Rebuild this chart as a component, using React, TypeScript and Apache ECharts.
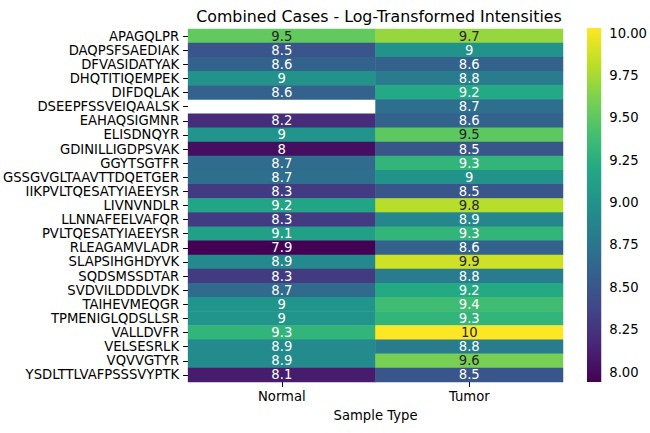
import React, { useEffect, useRef } from "react";
import * as echarts from "echarts";

const peptides = [
  "APAGQLPR", "DAQPSFSAEDIAK", "DFVASIDATYAK", "DHQTITIQEMPEK", "DIFDQLAK",
  "DSEEPFSSVEIQAALSK", "EAHAQSIGMNR", "ELISDNQYR", "GDINILLIGDPSVAK", "GGYTSGTFR",
  "GSSGVGLTAAVTTDQETGER", "IIKPVLTQESATYIAEEYSR", "LIVNVNDLR", "LLNNAFEELVAFQR",
  "PVLTQESATYIAEEYSR", "RLEAGAMVLADR", "SLAPSIHGHDYVK", "SQDSMSSDTAR",
  "SVDVILDDDLVDK", "TAIHEVMEQGR", "TPMENIGLQDSLLSR", "VALLDVFR", "VELSESRLK",
  "VQVVGTYR", "YSDLTTLVAFPSSSVYPTK",
];

const sampleTypes = ["Normal", "Tumor"];

const normalValues: (number | null)[] = [
  9.52, 8.49, 8.6, 9.0, 8.6, null, 8.2, 9.02, 8.02, 8.68, 8.7, 8.3, 9.17, 8.3,
  9.12, 7.941, 8.92, 8.3, 8.66, 9.02, 9.02, 9.3, 8.93, 8.94, 8.1,
];

const tumorValues: (number | null)[] = [
  9.7, 9.0, 8.6, 8.8, 9.2, 8.7, 8.6, 9.5, 8.5, 9.3, 9.0, 8.5, 9.8, 8.9, 9.3,
  8.6, 9.88, 8.8, 9.2, 9.38, 9.3, 10.031, 8.8, 9.6, 8.5,
];

const colorbarTicks = [8.0, 8.25, 8.5, 8.75, 9.0, 9.25, 9.5, 9.75, 10.0];
const vMin = 7.941;
const vMax = 10.031;

const viridis = [
  "#440154", "#482475", "#414487", "#355f8d", "#2a788e", "#21918c",
  "#22a884", "#44bf70", "#7ad151", "#bddf26", "#fde725",
];

const FONT = "DejaVu Sans";
const FS = 13.2;

export default function App() {
  const ref = useRef<HTMLDivElement>(null);
  useEffect(() => {
    document.body.style.margin = "0";
    if (!ref.current) return;
    const chart = echarts.init(ref.current, null, { renderer: "svg" });

    const data: any[] = [];
    [normalValues, tumorValues].forEach((col, xi) => {
      col.forEach((v, yi) => {
        if (v === null) return;
        data.push({
          value: [xi, yi, v],
          label: { color: v > 9.45 ? "#262626" : "#ffffff" },
        });
      });
    });

    const stops = viridis.map((c, i) => ({ offset: i / (viridis.length - 1), color: c }));

    chart.setOption({
      animation: false,
      title: {
        text: "Combined Cases - Log-Transformed Intensities",
        left: 374,
        top: 3,
        textAlign: "center",
        textStyle: { fontFamily: FONT, fontSize: 15.8, fontWeight: "normal", color: "#000" },
      },
      grid: [
        { left: 185, top: 29, width: 378, height: 353 },
        { left: 587, top: 28, width: 17, height: 354 },
      ],
      xAxis: [
        {
          type: "category",
          gridIndex: 0,
          data: sampleTypes,
          name: "Sample Type",
          nameLocation: "middle",
          nameGap: 27,
          nameTextStyle: { fontFamily: FONT, fontSize: FS, color: "#000" },
          axisLine: { show: false },
          axisTick: { show: true, alignWithLabel: true, length: 5, lineStyle: { color: "#000" } },
          axisLabel: { fontFamily: FONT, fontSize: FS, color: "#000", margin: 8 },
          splitLine: { show: false },
        },
        { type: "value", gridIndex: 1, min: 0, max: 1, show: false },
      ],
      yAxis: [
        {
          type: "category",
          gridIndex: 0,
          data: peptides,
          inverse: true,
          axisLine: { show: false },
          axisTick: { show: true, alignWithLabel: true, length: 5, lineStyle: { color: "#000" } },
          axisLabel: { fontFamily: FONT, fontSize: FS, color: "#000", margin: 9, interval: 0 },
          splitLine: { show: false },
        },
        {
          type: "value",
          gridIndex: 1,
          position: "right",
          min: vMin,
          max: vMax,
          axisLine: { show: false },
          splitLine: { show: false },
          axisTick: {
            show: true,
            length: 5,
            customValues: colorbarTicks,
            lineStyle: { color: "#000" },
          },
          axisLabel: {
            fontFamily: FONT,
            fontSize: FS,
            color: "#000",
            margin: 8,
            customValues: colorbarTicks,
            formatter: (v: number) => v.toFixed(2),
          },
        },
      ],
      visualMap: {
        show: false,
        type: "continuous",
        min: vMin,
        max: vMax,
        seriesIndex: 0,
        dimension: 2,
        inRange: { color: viridis },
      },
      series: [
        {
          type: "heatmap",
          xAxisIndex: 0,
          yAxisIndex: 0,
          data,
          label: {
            show: true,
            fontFamily: FONT,
            fontSize: FS,
            formatter: (p: any) => String(Number(Number(p.value[2]).toPrecision(2))),
          },
          itemStyle: { borderWidth: 0 },
          emphasis: { disabled: true },
        },
        {
          type: "custom",
          xAxisIndex: 1,
          yAxisIndex: 1,
          data: [[0]],
          renderItem: (params: any, api: any) => {
            const p1 = api.coord([0, vMax]);
            const p2 = api.coord([1, vMin]);
            return {
              type: "rect",
              shape: { x: p1[0], y: p1[1], width: p2[0] - p1[0], height: p2[1] - p1[1] },
              style: { fill: new echarts.graphic.LinearGradient(0, 1, 0, 0, stops) },
            };
          },
          silent: true,
        },
      ],
    });
    return () => chart.dispose();
  }, []);
  return <div ref={ref} style={{ width: 650, height: 433 }} />;
}
